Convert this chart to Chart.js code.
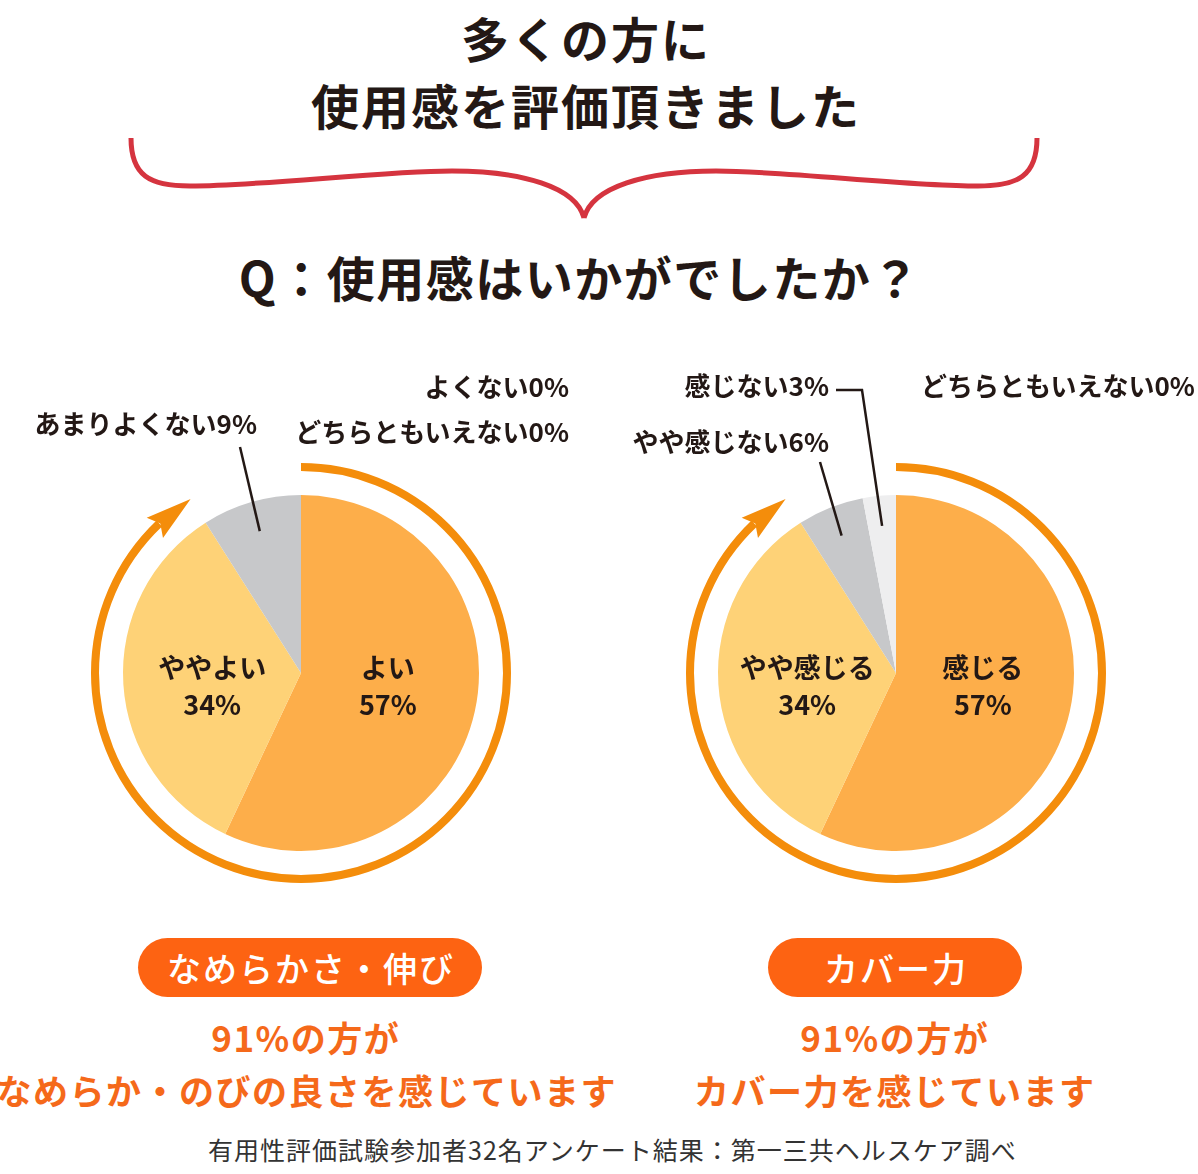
<!DOCTYPE html>
<html lang="ja">
<head>
<meta charset="utf-8">
<title>使用感アンケート</title>
<script src="https://cdn.jsdelivr.net/npm/chart.js@4.4.1/dist/chart.umd.min.js"></script>
<style>
  html, body { margin: 0; padding: 0; background: #fff; }
  #page {
    position: relative; width: 1198px; height: 1174px; overflow: hidden;
    font-family: "Noto Sans CJK JP", "Noto Sans", sans-serif; color: #231815;
  }
  .t { position: absolute; white-space: nowrap; line-height: 1; }
  .c { transform: translate(-50%, -50%); }
  .r { transform: translate(-100%, -50%); }
  .l { transform: translate(0, -50%); }
  .title { font-size: 48px; font-weight: 700; letter-spacing: 2px; padding-left: 2px; }
  .lab { font-size: 26px; font-weight: 700; letter-spacing: 0; }
  .pill {
    position: absolute; top: 938px; height: 59px; border-radius: 30px;
    background: #fd6312; color: #fff; font-size: 34px; font-weight: 500;
    letter-spacing: 2px; padding-left: 2px; box-sizing: border-box;
    display: flex; align-items: center; justify-content: center; line-height: 1;
  }
  .msg { font-size: 35px; font-weight: 700; letter-spacing: 1.5px; padding-left: 1.5px; color: #f5691a; }
  .foot { font-size: 25px; font-weight: 400; letter-spacing: 1px; padding-left: 1px; color: #333; }
  canvas { position: absolute; }
  svg { position: absolute; left: 0; top: 0; }
</style>
</head>
<body>
<div id="page">
  <svg width="1198" height="260">
    <path d="M131,138 C131,176 150,186 190,186 C262,186 382,171 452,171 C522,171 576,187 584,218
             M1037,138 C1037,176 1018,186 978,186 C906,186 786,171 716,171 C646,171 592,187 584,218"
          fill="none" stroke="#d5343f" stroke-width="5"/>
  </svg>

  <div class="t c title" style="left:585px; top:37px;">多くの方に</div>
  <div class="t c title" style="left:585px; top:104px;">使用感を評価頂きました</div>
  <div class="t c title" style="left:579px; top:276px; letter-spacing:1.5px; padding-left:1.5px;">Q：使用感はいかがでしたか？</div>

  <canvas id="leftChart" width="440" height="560" style="left:81px; top:333px;"></canvas>
  <canvas id="rightChart" width="440" height="560" style="left:676px; top:333px;"></canvas>

  <div class="pill" style="left:138px; width:344px;">なめらかさ・伸び</div>
  <div class="pill" style="left:768px; width:254px;">カバー力</div>

  <div class="t c msg" style="left:305px; top:1036px;">91%の方が</div>
  <div class="t c msg" style="left:306px; top:1089px;">なめらか・のびの良さを感じています</div>
  <div class="t c msg" style="left:894px; top:1036px;">91%の方が</div>
  <div class="t c msg" style="left:894px; top:1089px;">カバー力を感じています</div>

  <div class="t c foot" style="left:612px; top:1149px;">有用性評価試験参加者32名アンケート結果：第一三共ヘルスケア調べ</div>
</div>

<script>
// 左：なめらかさ・伸び
const leftLabels = ['よい', 'ややよい', 'あまりよくない', 'よくない', 'どちらともいえない'];
const leftValues = [57, 34, 9, 0, 0];

// 右：カバー力
const rightLabels = ['感じる', 'やや感じる', 'やや感じない', '感じない', 'どちらともいえない'];
const rightValues = [57, 34, 6, 3, 0];

// 外側の矢印リング（よい評価の合計）
const ringValues = [91, 9];

const sliceColors = ['#fdae4a', '#fed277', '#c7c8ca', '#eeeeef', '#dcdcdc'];
const ringColor = '#f48d0b';
const inkColor = '#231815';

// 円の外に置くラベル（ページ座標）と引き出し線の始点
const leftOutside = [
  { index: 2, x: 257, y: 423, align: 'r', from: [[240, 447]] },
  { index: 3, x: 569, y: 386, align: 'r' },
  { index: 4, x: 569, y: 431, align: 'r' }
];
const rightOutside = [
  { index: 2, x: 829, y: 441, align: 'r', from: [[820, 462]] },
  { index: 3, x: 829, y: 385, align: 'r', from: [[836, 390], [862, 390]] },
  { index: 4, x: 921, y: 385, align: 'l' }
];

const page = document.getElementById('page');

// arrow ring drawn on the ring dataset's arc geometry
const ringArrow = {
  id: 'ringArrow',
  afterDatasetsDraw(chart) {
    const ctx = chart.ctx;
    const arc = chart.getDatasetMeta(0).data[0];
    const { x, y, startAngle, endAngle, outerRadius } =
      arc.getProps(['x', 'y', 'startAngle', 'endAngle', 'outerRadius'], true);
    const r = outerRadius - 4;
    const head = 46, half = 13;
    const baseAngle = endAngle - head / r;

    ctx.save();
    ctx.strokeStyle = ringColor;
    ctx.fillStyle = ringColor;
    ctx.lineWidth = 8;
    ctx.beginPath();
    ctx.arc(x, y, r, startAngle, baseAngle + 0.03);
    ctx.stroke();

    const tx = x + r * Math.cos(endAngle), ty = y + r * Math.sin(endAngle);
    const bx = x + r * Math.cos(baseAngle), by = y + r * Math.sin(baseAngle);
    const len = Math.hypot(tx - bx, ty - by);
    const ux = (tx - bx) / len, uy = (ty - by) / len;
    const nx = -uy, ny = ux;
    ctx.beginPath();
    ctx.moveTo(tx, ty);
    ctx.lineTo(bx + nx * half, by + ny * half);
    ctx.lineTo(bx + ux * 7, by + uy * 7);
    ctx.lineTo(bx - nx * half, by - ny * half);
    ctx.closePath();
    ctx.fill();
    ctx.restore();
  }
};

// slice labels inside the pie + leader lines to outside labels
const sliceText = {
  id: 'sliceText',
  afterDatasetsDraw(chart, args, opts) {
    const ctx = chart.ctx;
    const meta = chart.getDatasetMeta(1);
    const values = chart.data.datasets[1].data;
    const labels = chart.data.labels;
    ctx.save();
    ctx.fillStyle = inkColor;
    ctx.font = '700 27px "Noto Sans CJK JP", sans-serif';
    ctx.textAlign = 'center';
    ctx.textBaseline = 'middle';
    [0, 1].forEach(i => {
      const arc = meta.data[i];
      const pos = arc.tooltipPosition(true);
      const cy = arc.y + 13;
      ctx.fillText(labels[i], pos.x, cy - 18);
      ctx.fillText(values[i] + '%', pos.x, cy + 19);
    });

    ctx.strokeStyle = inkColor;
    ctx.lineWidth = 2.5;
    opts.outside.filter(o => o.from).forEach(o => {
      const arc = meta.data[o.index];
      const p = arc.getProps(['x', 'y', 'startAngle', 'endAngle', 'outerRadius'], true);
      const mid = (p.startAngle + p.endAngle) / 2;
      const rr = p.outerRadius * 0.83;
      ctx.beginPath();
      o.from.forEach((pt, k) => {
        const px = pt[0] - opts.left, py = pt[1] - opts.top;
        if (k === 0) ctx.moveTo(px, py); else ctx.lineTo(px, py);
      });
      ctx.lineTo(p.x + rr * Math.cos(mid), p.y + rr * Math.sin(mid));
      ctx.stroke();
    });
    ctx.restore();
  }
};

function makePie(canvasId, labels, values, outside) {
  const canvas = document.getElementById(canvasId);
  const left = parseFloat(canvas.style.left), top = parseFloat(canvas.style.top);

  outside.forEach(o => {
    const div = document.createElement('div');
    div.className = 't lab ' + o.align;
    div.style.left = o.x + 'px';
    div.style.top = o.y + 'px';
    div.textContent = labels[o.index] + values[o.index] + '%';
    page.appendChild(div);
  });

  return new Chart(canvas.getContext('2d'), {
    type: 'doughnut',
    data: {
      labels,
      datasets: [
        { data: ringValues, backgroundColor: ['rgba(0,0,0,0)', 'rgba(0,0,0,0)'],
          borderWidth: 0, hoverBorderWidth: 0, hoverOffset: 0, weight: 32 },
        { data: values, backgroundColor: sliceColors,
          borderWidth: 0, hoverBorderWidth: 0, hoverOffset: 0, weight: 178 }
      ]
    },
    options: {
      responsive: false,
      animation: false,
      events: [],
      cutout: 0,
      layout: { padding: { top: 130, left: 10, right: 10, bottom: 10 } },
      plugins: {
        legend: { display: false },
        tooltip: { enabled: false },
        sliceText: { outside, left, top }
      }
    },
    plugins: [ringArrow, sliceText]
  });
}

makePie('leftChart', leftLabels, leftValues, leftOutside);
makePie('rightChart', rightLabels, rightValues, rightOutside);
</script>
</body>
</html>
